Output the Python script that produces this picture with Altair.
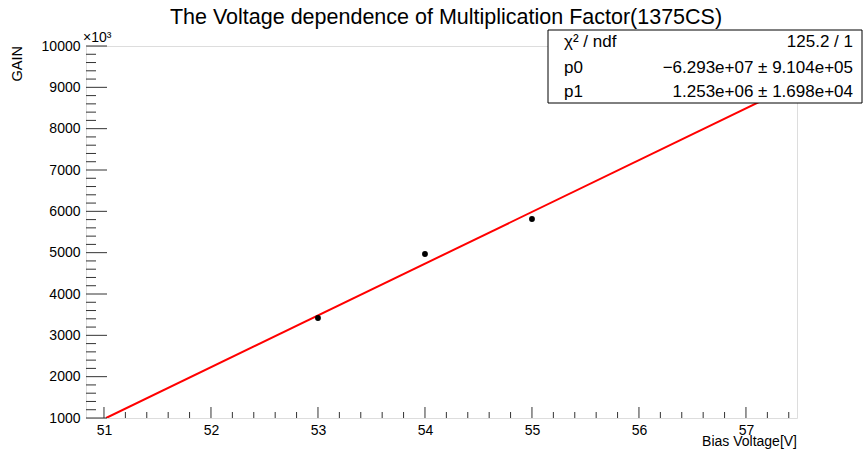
import altair as alt
import pandas as pd
import numpy as np

# ---- data ----
bias_v = [53.0, 54.0, 55.0]
gain_k = [3419, 4968, 5815]          # GAIN in units of 10^3

fit_x = [51.02, 57.477]
fit_y = [1000, 9089]

x_major = [51, 52, 53, 54, 55, 56, 57]
y_major = [1000, 2000, 3000, 4000, 5000, 6000, 7000, 8000, 9000, 10000]

title = "The Voltage dependence of Multiplication Factor(1375CS)"
x_title = "Bias Voltage[V]"
y_title = "GAIN"
y_mult = "×10³"
stats_names = ["χ² / ndf", "p0", "p1"]
stats_vals = ["125.2 / 1", "−6.293e+07 ± 9.104e+05", "1.253e+06 ± 1.698e+04"]

XMIN, XMAX = 50.832, 57.477
YMIN, YMAX = 1000, 10000
W, H = 711, 372
FONT = "Liberation Sans"

xs = alt.Scale(domain=[XMIN, XMAX], nice=False, zero=False)
ys = alt.Scale(domain=[YMIN, YMAX], nice=False, zero=False)

pts = pd.DataFrame({"v": bias_v, "g": gain_k})
fit = pd.DataFrame({"v": fit_x, "g": fit_y})

# minor tick positions
x_minor = [round(v, 2) for v in np.arange(51.0, 57.5, 0.2) if round(v * 5) % 5 != 0]
y_minor = [int(round(v)) for v in np.arange(1200, 10000, 200) if int(round(v)) % 1000 != 0]

axis_x = alt.Axis(values=x_major, tickSize=0, domain=False, grid=False, labelFontSize=14,
                  labelFont=FONT, labelColor="black", labelPadding=5, title=None, format="d")
axis_y = alt.Axis(values=y_major, tickSize=0, domain=False, grid=False, labelFontSize=14,
                  labelFont=FONT, labelColor="black", labelPadding=6, title=None, format="d")

base_pts = alt.Chart(pts).mark_circle(size=34, color="black", opacity=1).encode(
    x=alt.X("v:Q", scale=xs, axis=axis_x),
    y=alt.Y("g:Q", scale=ys, axis=axis_y),
)

line = alt.Chart(fit).mark_line(color="#ff0000", strokeWidth=2, clip=True).encode(
    x=alt.X("v:Q", scale=xs), y=alt.Y("g:Q", scale=ys)
)

xt_major = alt.Chart(pd.DataFrame({"v": x_major})).mark_rule(color="#333333").encode(
    x=alt.X("v:Q", scale=xs), y=alt.value(H), y2=alt.value(H - 11))
xt_minor = alt.Chart(pd.DataFrame({"v": x_minor})).mark_rule(color="#333333").encode(
    x=alt.X("v:Q", scale=xs), y=alt.value(H), y2=alt.value(H - 6))
yt_major = alt.Chart(pd.DataFrame({"g": y_major})).mark_rule(color="#333333").encode(
    y=alt.Y("g:Q", scale=ys), x=alt.value(0), x2=alt.value(21))
yt_minor = alt.Chart(pd.DataFrame({"g": y_minor})).mark_rule(color="#333333").encode(
    y=alt.Y("g:Q", scale=ys), x=alt.value(0), x2=alt.value(10))


def label(text, x, y, size, align="left", angle=0, baseline="middle"):
    kw = dict(fontSize=size, font=FONT, align=align, baseline=baseline, color="black")
    if angle:
        kw["angle"] = angle
    return alt.Chart(pd.DataFrame({"t": [text]})).mark_text(**kw).encode(
        text="t:N", x=alt.value(x), y=alt.value(y))


title_t = label(title, 360, -28, 21.5, align="center")
xtitle_t = label(x_title, W, 396, 14, align="right")
ytitle_t = label(y_title, -68, 0, 14.5, align="right", angle=270)
mult_t = label(y_mult, -3, -8, 14, align="left")

box = alt.Chart(pd.DataFrame({"a": [0]})).mark_rect(
    fill="white", stroke="black", strokeWidth=1).encode(
    x=alt.value(462), x2=alt.value(776), y=alt.value(-16), y2=alt.value(57))

row_y = [-4, 22, 46]
stats = []
for n, v, ry in zip(stats_names, stats_vals, row_y):
    stats.append(label(n, 478, ry, 17, align="left"))
    stats.append(label(v, 767, ry, 17, align="right"))

chart = alt.layer(
    line, base_pts, xt_major, xt_minor, yt_major, yt_minor,
    box, *stats, title_t, xtitle_t, ytitle_t, mult_t
).properties(
    width=W, height=H,
    autosize=alt.AutoSizeParams(type="none"),
    padding={"left": 86, "top": 46, "right": 67, "bottom": 38},
).configure_view(stroke="#222222", strokeWidth=1).configure(background="white")

chart.save("out.html", embed_options={"renderer": "svg", "actions": False})
